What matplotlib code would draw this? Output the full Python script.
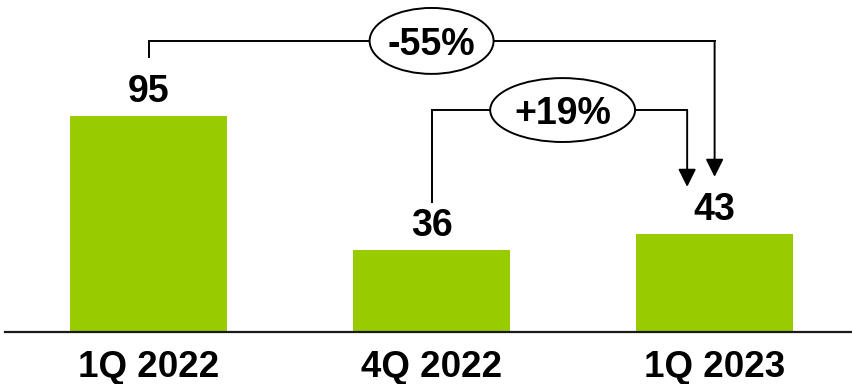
import matplotlib
matplotlib.use("Agg")
import matplotlib.pyplot as plt
from matplotlib.patches import Ellipse

categories = ["1Q 2022", "4Q 2022", "1Q 2023"]
values = [95, 36, 43]
changes = ["-55%", "+19%"]

plt.rcParams['font.family'] = ['Liberation Sans', 'DejaVu Sans']

fig = plt.figure(figsize=(8.53, 3.84), dpi=100)
ax = fig.add_axes([0, 0, 1, 1])
x = list(range(len(categories)))
green = "#99CC00"
ax.bar(x, values, width=0.555, color=green, zorder=2)

ax.set_xlim(-0.525, 2.489)
ax.set_ylim(-22.9, 146.0)

for s in ["top", "right", "left"]:
    ax.spines[s].set_visible(False)
ax.spines["bottom"].set_position(("data", 0))
ax.spines["bottom"].set_color("#1a1a1a")
ax.spines["bottom"].set_linewidth(1.6)
ax.spines["bottom"].set_bounds(-0.507, 2.489)
ax.set_yticks([])
ax.set_xticks(x, categories, fontsize=26.5, fontweight="bold")
ax.tick_params(axis="x", length=0, pad=13)

FS = 27
for xi, v in zip(x, values):
    ax.annotate(str(v), (xi, v), xytext=(0, 10), textcoords="offset points",
                ha="center", va="baseline", fontsize=FS, fontweight="bold")

lw = 1.4
# -55% bracket (1Q 2022 -> 1Q 2023)
y1 = 127.8
ax.plot([0, 0, 2], [120.9, y1, y1], color="black", lw=lw, zorder=3,
        solid_joinstyle="miter")
ax.annotate("", xy=(2, 68.2), xytext=(2, y1),
            arrowprops=dict(arrowstyle="-|>", color="black", lw=lw,
                            mutation_scale=27, shrinkA=0, shrinkB=0))
ax.add_patch(Ellipse((1.0, 128.0), 0.438, 29.0, facecolor="white",
                     edgecolor="black", lw=lw, zorder=4))
ax.text(1.0, 128.0, changes[0], ha="center", va="center_baseline",
        fontsize=FS, fontweight="bold", zorder=5)

# +19% bracket (4Q 2022 -> 1Q 2023)
y2 = 97.4
xr = 1.903
ax.plot([1, 1, xr], [57.2, y2, y2], color="black", lw=lw, zorder=3,
        solid_joinstyle="miter")
ax.annotate("", xy=(xr, 63.8), xytext=(xr, y2),
            arrowprops=dict(arrowstyle="-|>", color="black", lw=lw,
                            mutation_scale=27, shrinkA=0, shrinkB=0))
ax.add_patch(Ellipse((1.463, 97.6), 0.512, 28.1, facecolor="white",
                     edgecolor="black", lw=lw, zorder=4))
ax.text(1.463, 97.6, changes[1], ha="center", va="center_baseline",
        fontsize=FS, fontweight="bold", zorder=5)

fig.savefig("out.png", dpi=100)
